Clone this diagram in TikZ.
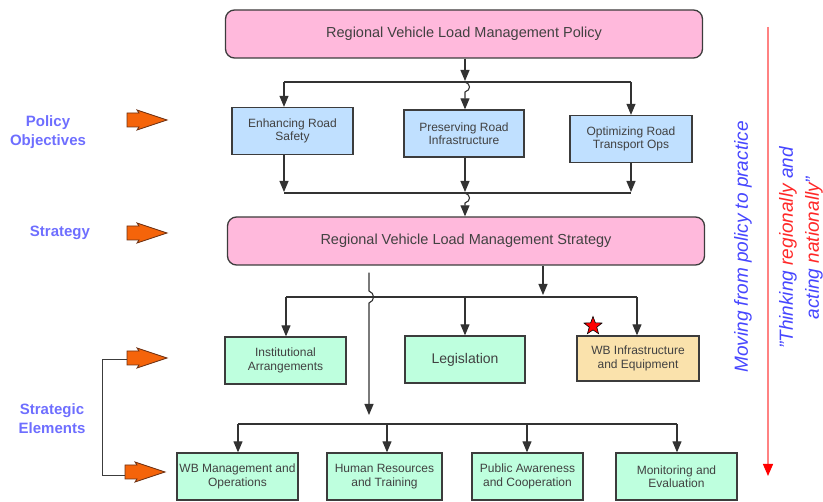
\documentclass[tikz,border=0pt]{standalone}
\usepackage{fontspec}
\setmainfont{Liberation Sans}
\usetikzlibrary{arrows.meta,shapes.geometric}
\definecolor{pinkfill}{RGB}{255,185,220}
\definecolor{bluefill}{RGB}{192,224,255}
\definecolor{greenfill}{RGB}{190,255,222}
\definecolor{tanfill}{RGB}{250,226,172}
\definecolor{boxline}{RGB}{60,60,60}
\definecolor{boxtext}{RGB}{65,65,65}
\definecolor{connline}{RGB}{50,50,50}
\definecolor{lblblue}{RGB}{110,110,255}
\definecolor{sideblue}{RGB}{70,70,255}
\definecolor{sidered}{RGB}{255,40,40}
\definecolor{orangefill}{RGB}{245,100,10}
\definecolor{orangeline}{RGB}{110,50,20}
\definecolor{redline}{RGB}{255,130,130}
\begin{document}
\begin{tikzpicture}[x=1pt,y=-1pt,
  box/.style={draw=boxline, line width=1.3pt, text=boxtext, align=center, inner sep=0pt,
              font=\fontsize{12}{13.5}\selectfont},
  bigbox/.style={box, rounded corners=9pt, fill=pinkfill, minimum width=477pt, minimum height=48pt,
              font=\fontsize{14.5}{16}\selectfont},
  objbox/.style={box, fill=bluefill, minimum width=121pt, minimum height=47pt},
  elbox/.style={box, fill=greenfill, minimum width=121pt, minimum height=47pt},
  conn/.style={draw=connline, line width=1.1pt},
  arr/.style={conn, -{Triangle[width=9pt,length=11pt]}},
  lbl/.style={text=lblblue, font=\bfseries\fontsize{15}{19}\selectfont, align=center},
  side/.style={text=sideblue, font=\itshape\fontsize{19}{26}\selectfont, align=center, rotate=90},
  orarrow/.pic={\filldraw[fill=orangefill, draw=orangeline, line width=0.8pt]
      (0,-7)--(12,-7)--(10,-10)--(40,0)--(10,10)--(12,7)--(0,7)--cycle;}
]
\useasboundingbox (0,0) rectangle (823,502);

% main boxes
\node[bigbox] (pol) at (464,34) {Regional Vehicle Load Management Policy};
\node[objbox] (enh) at (292.5,131) {Enhancing Road\\Safety};
\node[objbox, minimum width=120pt] (pres) at (464,133.5) {Preserving Road\\Infrastructure};
\node[objbox, minimum width=122pt] (opt) at (631,139) {Optimizing Road\\Transport Ops};
\node[bigbox] (strat) at (466,241) {Regional Vehicle Load Management Strategy};
\node[elbox] (inst) at (285.5,360.5) {Institutional\\Arrangements};
\node[elbox, minimum width=120pt, font=\fontsize{14}{15}\selectfont] (leg) at (465,359.5) {Legislation};
\node[box, fill=tanfill, minimum width=122pt, minimum height=45pt] (wbi) at (638,358.5) {WB Infrastructure\\and Equipment};
\node[elbox] (wbm) at (237.5,476.5) {WB Management and\\Operations};
\node[elbox, minimum width=115pt] (hr) at (384.5,476.5) {Human Resources\\and Training};
\node[elbox, minimum width=111pt] (pa) at (527.5,476.5) {Public Awareness\\and Cooperation};
\node[elbox] (mon) at (676.5,476.5) {Monitoring and\\Evaluation};
\node[star, star points=5, star point ratio=2.4, fill=red, draw=black, line width=0.6pt,
      minimum size=19pt, inner sep=0pt] (star) at (593,326) {};

% junction coordinates
\coordinate (t1) at (284,82);  \coordinate (tm) at (465,82);  \coordinate (t3) at (631,82);
\coordinate (b1) at (284,193); \coordinate (bm) at (465,193); \coordinate (b3) at (631,193);
\coordinate (s1) at (286,297); \coordinate (s2) at (465,297); \coordinate (s3) at (637,297);
\coordinate (sa) at (543,297); \coordinate (vx) at (369,297);
\coordinate (e0) at (369,424);
\coordinate (e1) at (238,424); \coordinate (e2) at (387,424);
\coordinate (e3) at (527,424); \coordinate (e4) at (677,424);

% (canvas yshift is upward: negative yshift moves down)
% policy -> objectives
\draw[arr] (pol.south -| tm) -- ([yshift=1pt]tm);
\draw[conn] (t1) -- (t3);
\draw[arr] (t1) -- (enh.north -| t1);
\draw[arr] (t3) -- (opt.north -| t3);
\draw[arr] (tm) .. controls +(6,2) and +(6,-2) .. ([yshift=-10pt]tm) -- (pres.north -| tm);

% objectives -> strategy
\draw[arr] (enh.south -| b1) -- ([yshift=1pt]b1);
\draw[arr] (pres.south -| bm) -- ([yshift=1pt]bm);
\draw[arr] (opt.south -| b3) -- ([yshift=1pt]b3);
\draw[conn] (b1) -- (b3);
\draw[arr] (bm) .. controls +(6,2) and +(6,-2) .. ([yshift=-10pt]bm) -- (strat.north -| bm);

% strategy -> first row of elements
\draw[arr] (strat.south -| sa) -- ([yshift=2pt]sa);
\draw[conn] (s1) -- (s3);
\draw[arr] (s1) -- (inst.north -| s1);
\draw[arr] (s2) -- (leg.north -| s2);
\draw[arr] (s3) -- (wbi.north -| s3);

% strategy -> second row of elements
\draw[arr] ([yshift=-7pt]strat.south -| vx) -- ([yshift=6pt]vx)
   .. controls +(6,2) and +(6,-2) .. ([yshift=-6pt]vx) -- ([yshift=9pt]e0);
\draw[conn] (e1) -- (e4);
\draw[arr] (e1) -- (wbm.north -| e1);
\draw[arr] (e2) -- (hr.north -| e2);
\draw[arr] (e3) -- (pa.north -| e3);
\draw[arr] (e4) -- (mon.north -| e4);

% left labels and orange arrows
\node[lbl] (lpo) at (48,132) {Policy\\Objectives};
\node[lbl] (lst) at (60,233) {Strategy};
\node[lbl] (lse) at (52,419) {Strategic\\Elements};
\pic at (127,120) {orarrow};
\pic at (127,233) {orarrow};
\pic at (127,358) {orarrow};
\pic at (125,472) {orarrow};
\coordinate (br1) at (127,359); \coordinate (br2) at (125,475);
\draw[draw=boxline, line width=0.8pt] (br1) -- (102,359) -- (102,475) -- (br2);

% right side
\coordinate (rtop) at (768,27); \coordinate (rbot) at (768,476);
\draw[draw=redline, line width=1.3pt, -{Triangle[width=10pt,length=12pt,color=red]}] (rtop) -- (rbot);
\node[side] (mv) at (743,247) {Moving from policy to practice};
\node[side] (th) at (801,248) {"Thinking \textcolor{sidered}{regionally} and\\acting \textcolor{sidered}{nationally}"};
\end{tikzpicture}
\end{document}
